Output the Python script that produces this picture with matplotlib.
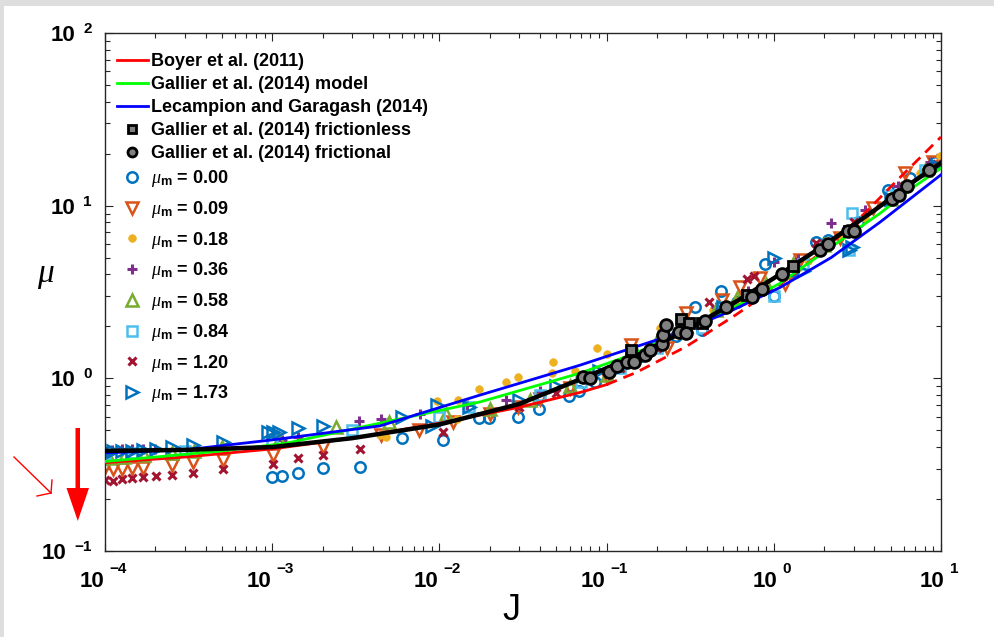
import numpy as np
import matplotlib
matplotlib.use("Agg")
import matplotlib.pyplot as plt
from matplotlib.lines import Line2D
from matplotlib.legend import Legend
from matplotlib.patches import Polygon, Rectangle
import matplotlib.transforms as mtransforms

plt.rcParams['font.family'] = ['Liberation Sans', 'DejaVu Sans']
plt.rcParams['mathtext.fontset'] = 'custom'
plt.rcParams['mathtext.it'] = 'Liberation Serif:italic'
plt.rcParams['mathtext.bf'] = 'Liberation Sans:bold'
plt.rcParams['mathtext.rm'] = 'Liberation Sans'

# ---------------- model curves ----------------
boyer_J = [1e-4, 3e-4, 1e-3, 3e-3, 0.01, 0.03, 0.07, 0.1]
boyer_mu = [0.325, 0.35, 0.39, 0.45, 0.55, 0.68, 0.83, 0.92]
boyer_ext_J = [0.1, 0.15, 0.217, 0.3, 0.43, 0.6, 0.91, 1.3, 1.71, 2.4, 3.4, 5.66, 10]
boyer_ext_mu = [0.92, 1.08, 1.30, 1.53, 1.91, 2.35, 3.1, 3.95, 4.9, 6.5, 8.8, 14.5, 25.0]

gallier_J = [1e-4, 2e-4, 5e-4, 1.2e-3, 4.4e-3, 0.0175, 0.069, 0.15, 0.275, 0.55, 1.09, 2.0,
             4.3, 7.0, 10]
gallier_mu = [0.33, 0.35, 0.38, 0.42, 0.55, 0.73, 1.07, 1.4, 1.85, 2.5, 3.55, 5.4,
              9.0, 13.0, 16.5]

lecampion_J = [1e-4, 3e-4, 1e-3, 4.4e-3, 0.0175, 0.069, 0.275, 0.55, 1.09, 2.2, 4.3, 10]
lecampion_mu = [0.37, 0.385, 0.44, 0.53, 0.80, 1.19, 1.85, 2.45, 3.36, 5.0, 8.0, 15.1]

fit_J = [1e-4, 3e-4, 1e-3, 3e-3, 0.01, 0.03, 0.07, 0.15, 0.3, 0.6, 1.0, 2.0, 4.0, 7.0, 10]
fit_mu = [0.38, 0.385, 0.40, 0.45, 0.54, 0.71, 0.99, 1.35, 1.9, 2.8, 3.8, 5.9, 9.4, 14.0, 17.7]

# ---------------- Gallier et al. (2014) simulations ----------------
fless_J = [0.14, 0.28, 0.31, 0.37, 0.69, 1.3, 2.8]
fless_mu = [1.46, 2.2, 2.1, 2.1, 3.05, 4.5, 7.1]

fric_J = [0.072, 0.080, 0.103, 0.116, 0.133, 0.146, 0.169, 0.182, 0.214, 0.217, 0.227,
          0.27, 0.30, 0.39, 0.52, 0.74, 0.85, 1.12, 1.9, 2.1, 2.77, 3.0, 5.1, 5.6, 6.3, 8.5]
fric_mu = [1.02, 1.0, 1.09, 1.18, 1.24, 1.25, 1.36, 1.46, 1.58, 1.78, 2.03,
           1.86, 1.83, 2.15, 2.6, 2.96, 3.3, 4.0, 5.5, 6.0, 7.1, 7.1, 10.9, 11.6, 13.0, 16.0]

# ---------------- simulations for each interparticle friction ----------------
mum_labels = ['0.00', '0.09', '0.18', '0.36', '0.58', '0.84', '1.20', '1.73']

J_000 = [1.0e-3, 1.15e-3, 1.43e-3, 2.0e-3, 3.35e-3, 6.0e-3, 0.0105, 0.0173, 0.0198, 0.0295,
         0.0394, 0.0596, 0.068, 0.085, 0.121, 0.16, 0.2, 0.26, 0.34, 0.37, 0.48, 0.6, 0.89,
         1.0, 1.3, 1.8, 2.1, 3.2, 4.8, 6.5, 9.2]
mu_000 = [0.269, 0.272, 0.283, 0.303, 0.305, 0.45, 0.44, 0.59, 0.59, 0.60,
          0.664, 0.79, 0.85, 0.95, 1.17, 1.35, 1.55, 1.75, 2.58, 1.9, 3.2, 2.75, 4.6,
          3.0, 4.2, 6.2, 6.3, 8.0, 12.3, 14.5, 18.0]

J_009 = [1.0e-4, 1.12e-4, 1.26e-4, 1.45e-4, 1.69e-4, 2.52e-4, 3.36e-4, 5.08e-4, 1.01e-3, 2.0e-3,
         4.5e-3, 0.0075, 0.012, 0.02, 0.0295, 0.04, 0.06, 0.1, 0.14, 0.23, 0.30, 0.49, 0.63,
         0.83, 1.16, 1.43, 2.5, 3.9, 6.1, 9.0]
mu_009 = [0.307, 0.300, 0.300, 0.303, 0.303, 0.316, 0.327, 0.336, 0.36, 0.40,
          0.47, 0.50, 0.56, 0.62, 0.68, 0.76, 0.88, 1.02, 1.56, 1.49, 2.4, 2.84, 3.4,
          3.8, 3.5, 4.84, 6.5, 9.7, 15.4, 18.0]

J_018 = [4.4e-3, 4.8e-3, 9.7e-3, 0.0127, 0.013, 0.0173, 0.025, 0.0295, 0.047, 0.048, 0.065,
         0.088, 0.1, 0.14, 0.21, 0.28, 0.43, 0.6, 1.1, 1.6, 2.5, 3.5, 5.5, 7.5, 9.8]
mu_018 = [0.47, 0.46, 0.74, 0.58, 0.75, 0.87, 0.95, 1.02, 1.08, 1.24, 1.10,
          1.50, 1.38, 1.45, 1.95, 1.8, 2.5, 2.8, 3.9, 4.8, 6.8, 8.5, 12.0, 15.5, 19.5]

J_036 = [1.1e-4, 1.26e-4, 1.45e-4, 1.69e-4, 2.0e-4, 1.15e-3, 1.43e-3, 3.3e-3, 4.5e-3, 7.7e-3,
         0.0147, 0.025, 0.04, 0.07, 0.12, 0.2, 0.3, 0.45, 0.7, 1.0, 1.4, 2.2, 3.5, 5.5, 8.6]
mu_036 = [0.385, 0.39, 0.39, 0.39, 0.39, 0.44, 0.46, 0.567, 0.58, 0.62,
          0.70, 0.75, 0.85, 1.0, 1.2, 1.65, 2.1, 2.6, 3.2, 4.7, 4.9, 7.9, 9.5, 13.0, 17.8]

J_058 = [1.05e-4, 1.3e-4, 1.7e-4, 2.5e-4, 3.4e-4, 5e-4, 1.1e-3, 2.4e-3, 5e-3, 0.011, 0.02,
         0.035, 0.06, 0.1, 0.15, 0.2, 0.3, 0.45, 0.6, 0.9, 1.3, 2.0, 3.0, 5.0, 8.0]
mu_058 = [0.345, 0.35, 0.36, 0.37, 0.38, 0.40, 0.44, 0.52, 0.56, 0.62, 0.66,
          0.75, 0.9, 1.05, 1.4, 1.65, 2.0, 2.5, 2.9, 3.5, 4.6, 5.9, 7.6, 11.0, 16.0]

J_084 = [1.0e-4, 1.5e-4, 3e-4, 1e-3, 3e-3, 0.01, 0.015, 0.04, 0.07, 0.12, 0.2, 0.37, 0.5,
         1.0, 1.5, 2.8, 2.95, 5.0, 8.0]
mu_084 = [0.365, 0.37, 0.38, 0.42, 0.50, 0.60, 0.68, 0.80, 0.95, 1.15, 1.5, 1.95, 2.6,
          3.0, 4.6, 5.5, 9.1, 11.5, 16.0]

J_120 = [1.0e-4, 1.12e-4, 1.26e-4, 1.45e-4, 1.69e-4, 2.02e-4, 2.52e-4, 3.36e-4, 5.08e-4,
         1.01e-3, 1.43e-3, 2.0e-3, 3.35e-3, 0.0105, 0.03, 0.05, 0.12, 0.2, 0.41, 0.69, 0.76,
         1.8, 3.0, 6.0, 9.5]
mu_120 = [0.258, 0.256, 0.262, 0.265, 0.268, 0.272, 0.275, 0.283, 0.30,
          0.32, 0.346, 0.36, 0.39, 0.49, 0.68, 0.82, 1.15, 1.5, 2.77, 3.76, 3.9,
          6.1, 8.0, 13.0, 17.5]

J_173 = [1.0e-4, 1.12e-4, 1.26e-4, 1.45e-4, 1.69e-4, 2.02e-4, 2.52e-4, 3.36e-4, 5.08e-4,
         9.4e-4, 1.01e-3, 1.1e-3, 1.43e-3, 2.0e-3, 6.0e-3, 9.0e-3, 9.7e-3, 0.015, 0.03, 0.05,
         0.09, 0.15, 0.3, 0.5, 1.0, 1.5, 2.8, 2.95, 5.0, 9.5]
mu_173 = [0.37, 0.38, 0.38, 0.38, 0.385, 0.39, 0.40, 0.41, 0.43,
          0.49, 0.49, 0.49, 0.515, 0.53, 0.60, 0.53, 0.70, 0.68, 0.75, 0.90,
          1.10, 1.40, 2.0, 2.6, 5.0, 4.2, 5.5, 5.8, 11.0, 17.0]

series_J = [J_000, J_009, J_018, J_036, J_058, J_084, J_120, J_173]
series_mu = [mu_000, mu_009, mu_018, mu_036, mu_058, mu_084, mu_120, mu_173]

# MATLAB default colour order and marker per friction coefficient
styles = [
    dict(marker='o', ms=7.5, mfc='none', mec='#0072BD', mew=1.8),
    dict(marker='v', ms=8.5, mfc='none', mec='#D95319', mew=1.8),
    dict(marker='o', ms=5.5, mfc='#EDB120', mec='#EDB120', mew=0.5),
    dict(marker='+', ms=6.5, mfc='none', mec='#7E2F8E', mew=2.2),
    dict(marker='^', ms=8.5, mfc='none', mec='#77AC30', mew=1.8),
    dict(marker='s', ms=6.5, mfc='none', mec='#4DBEEE', mew=1.8),
    dict(marker='x', ms=5.5, mfc='none', mec='#A2142F', mew=2.2),
    dict(marker='>', ms=8.5, mfc='none', mec='#0072BD', mew=1.8),
]

W, H = 994, 637
fig = plt.figure(figsize=(W / 100, H / 100), dpi=100)
fig.patch.set_facecolor('white')
fig.patches.append(Rectangle((0, 1 - 6 / H), 1, 6 / H, transform=fig.transFigure,
                             facecolor='#dedede', edgecolor='none', zorder=0))
fig.patches.append(Rectangle((0, 0), 4 / W, 1, transform=fig.transFigure,
                             facecolor='#dedede', edgecolor='none', zorder=0))

AX_L, AX_R, AX_T, AX_B = 105, 941, 33, 551
ax = fig.add_axes([AX_L / W, 1 - AX_B / H, (AX_R - AX_L) / W, (AX_B - AX_T) / H])
ax.set_xscale('log')
ax.set_yscale('log')
ax.set_xlim(1e-4, 10)
ax.set_ylim(0.1, 100)
for s in ax.spines.values():
    s.set_linewidth(1.0)
    s.set_color('#262626')
ax.tick_params(which='both', direction='in', top=True, right=True,
               labelbottom=False, labelleft=False, color='#262626', width=0.8)
ax.tick_params(which='major', length=5.5)
ax.tick_params(which='minor', length=3.5)

# simulation data
for Jv, mv, st in zip(series_J, series_mu, styles):
    ax.plot(Jv, mv, linestyle='none', zorder=2, **st)

# model curves
ax.plot(boyer_J, boyer_mu, color='#FF0000', lw=2.0, zorder=3)
ax.plot(boyer_ext_J, boyer_ext_mu, color='#FF0000', lw=2.0, ls=(0, (4, 2.5)), zorder=3)
ax.plot(gallier_J, gallier_mu, color='#00FF00', lw=2.0, zorder=3)
ax.plot(lecampion_J, lecampion_mu, color='#0000FF', lw=2.0, zorder=3)
ax.plot(fit_J, fit_mu, color='black', lw=3.2, zorder=4)

sq_style = dict(marker='s', ms=7, mfc='#808080', mec='black', mew=2.0)
ci_style = dict(marker='o', ms=8.5, mfc='#808080', mec='black', mew=2.0)
ax.plot(fless_J, fless_mu, linestyle='none', zorder=5, **sq_style)
ax.plot(fric_J, fric_mu, linestyle='none', zorder=6, **ci_style)

# legends: model/simulation block, then the friction-coefficient block
model_handles = [
    Line2D([], [], color='#FF0000', lw=2.0),
    Line2D([], [], color='#00FF00', lw=2.0),
    Line2D([], [], color='#0000FF', lw=2.0),
    Line2D([], [], ls='none', marker='s', ms=5.5, mfc='#808080', mec='black', mew=2.0),
    Line2D([], [], ls='none', marker='o', ms=6.5, mfc='#808080', mec='black', mew=2.0),
]
model_labels = ['Boyer et al. (2011)', 'Gallier et al. (2014) model',
                'Lecampion and Garagash (2014)', 'Gallier et al. (2014) frictionless',
                'Gallier et al. (2014) frictional']
mum_handles = [Line2D([], [], ls='none', **st) for st in styles]
mum_texts = [r'$\mu_{\mathbf{m}}$ = ' + m for m in mum_labels]

FS = 13
FS_PX = FS * 100 / 72
renderer = fig.canvas.get_renderer()


def handle_centers(leg):
    fig.canvas.draw()
    return [0.5 * (h.get_window_extent(renderer).y0 + h.get_window_extent(renderer).y1)
            for h in leg.legend_handles]


def place_legend(handles, labels, first_py, step_px):
    """Legend whose first handle sits at pixel row first_py, rows step_px apart."""
    ax_h = AX_B - AX_T
    spacing = 0.3
    anchor_y = 1 - (first_py - AX_T - 10) / ax_h
    leg = None
    for _ in range(3):
        if leg is not None:
            leg.remove()
        leg = Legend(ax, handles, labels, loc='upper left',
                     bbox_to_anchor=(12 / (AX_R - AX_L), anchor_y), frameon=False,
                     prop={'weight': 'bold', 'size': FS}, handlelength=1.7,
                     handletextpad=0.2, labelspacing=spacing, borderpad=0,
                     borderaxespad=0)
        ax.add_artist(leg)
        c = handle_centers(leg)
        step = (c[0] - c[-1]) / (len(c) - 1)
        spacing += (step_px - step) / FS_PX
        cur_py = H - c[0]
        anchor_y -= (first_py - cur_py) / ax_h
    leg.remove()
    leg = Legend(ax, handles, labels, loc='upper left',
                 bbox_to_anchor=(12 / (AX_R - AX_L), anchor_y), frameon=False,
                 prop={'weight': 'bold', 'size': FS}, handlelength=1.7,
                 handletextpad=0.2, labelspacing=spacing, borderpad=0, borderaxespad=0)
    ax.add_artist(leg)
    return leg


place_legend(model_handles, model_labels, 60, 23)
place_legend(mum_handles, mum_texts, 177, 30.7)

# axis labels
fig.text(511 / W, 1 - 620 / H, 'J', fontsize=26, ha='center', va='baseline')
fig.text(45 / W, 1 - 282 / H, 'μ', fontsize=24, ha='center', va='baseline',
         family='Liberation Serif', style='italic')

# annotation arrows (figure pixel coordinates, y measured from the top)
def fpt(px, py):
    return (px / W, 1 - py / H)

arrow = [fpt(75.5, 428), fpt(80, 428), fpt(80, 488), fpt(89, 488), fpt(77.8, 521),
         fpt(66.5, 488), fpt(75.5, 488)]
fig.patches.append(Polygon(arrow, closed=True, transform=fig.transFigure,
                           facecolor='#FF0000', edgecolor='none'))
for seg in [[(14, 457), (51, 493)], [(51, 493), (37, 496)], [(51, 493), (52, 480)]]:
    xs = [seg[0][0] / W, seg[1][0] / W]
    ys = [1 - seg[0][1] / H, 1 - seg[1][1] / H]
    fig.add_artist(Line2D(xs, ys, transform=fig.transFigure, color='#FF0000', lw=1.0))

# MATLAB-style power-of-ten tick labels
fig.canvas.draw()
ident = mtransforms.IdentityTransform()


def exp_str(e):
    return ('\u2212' + str(-e)) if e < 0 else str(e)


x0_disp, y0_disp = ax.transAxes.transform((0, 0))
for e in range(-4, 2):
    tx, _ = ax.transData.transform((10.0 ** e, 0.1))
    b = ax.text(0, 0, '10', fontsize=16, weight='bold', ha='left', va='baseline',
                transform=ident, clip_on=False)
    p = ax.text(0, 0, exp_str(e), fontsize=11, weight='bold', ha='left', va='baseline',
                transform=ident, clip_on=False)
    wb = b.get_window_extent(renderer).width
    wp = p.get_window_extent(renderer).width
    gap = 5
    left = tx - 2 - (wb + gap + wp) / 2
    b.set_position((left, y0_disp - 36))
    p.set_position((left + wb + gap, y0_disp - 22))

for e in range(-1, 3):
    _, ty = ax.transData.transform((1e-4, 10.0 ** e))
    p = ax.text(x0_disp - 13, ty, exp_str(e), fontsize=11, weight='bold', ha='right',
                va='baseline', transform=ident, clip_on=False)
    wp = p.get_window_extent(renderer).width
    ax.text(x0_disp - 13 - wp - 8, ty - 8, '10', fontsize=16, weight='bold', ha='right',
            va='baseline', transform=ident, clip_on=False)

fig.savefig('out.png', dpi=100)
